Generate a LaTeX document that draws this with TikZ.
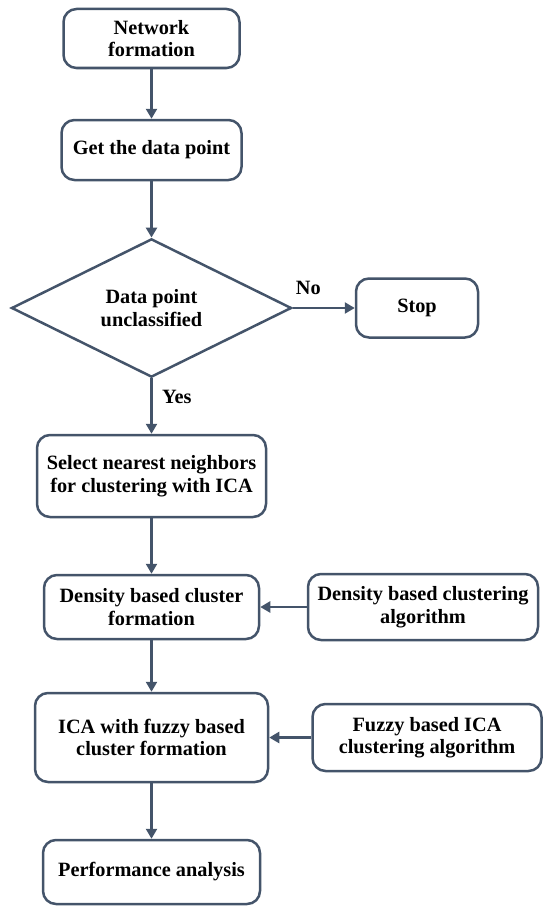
\documentclass[tikz,border=0pt]{standalone}
\usepackage{fontspec}
\setmainfont{Liberation Serif}
\usetikzlibrary{shapes.geometric, arrows.meta, positioning}

\definecolor{linegray}{HTML}{44546A}

\begin{document}
\begin{tikzpicture}[x=1pt, y=-1pt, line width=2.5pt, every node/.style={font=\fontsize{20.3}{22.5}\selectfont\bfseries}]
        \tikzset{
            stepbox/.style={draw=linegray, rounded corners=13pt, align=center, inner sep=0pt},
            decision/.style={draw=linegray, diamond, align=center, inner sep=0pt, minimum width=280pt, minimum height=138pt},
            flow/.style={draw=linegray, -{Triangle[length=10pt, width=11pt]}}
        }
        \useasboundingbox (0,0) rectangle (543,907);

        % Main column
        \node[stepbox, minimum width=176pt, minimum height=59pt] (netform) at (151.5,38.5) {Network\\formation};
        \node[stepbox, minimum width=180pt, minimum height=60pt] (getpt) at (151.5,150) {Get the data point};
        \node[decision] (unclass) at (151.5,308) {Data point\\unclassified};
        \node[stepbox, minimum width=229pt, minimum height=82pt] (select) at (151.5,476) {Select nearest neighbors\\for clustering with ICA};
        \node[stepbox, minimum width=215pt, minimum height=64pt] (dbform) at (151.5,607) {Density based cluster\\formation};
        \node[stepbox, minimum width=233pt, minimum height=89pt] (icaform) at (151.5,737.5) {ICA with fuzzy based\\cluster formation};
        \node[stepbox, minimum width=217pt, minimum height=64pt] (perf) at (151.5,872) {Performance analysis};

        % Side boxes
        \node[stepbox, minimum width=122pt, minimum height=59pt] (stop) at (417,308) {Stop};
        \node[stepbox, minimum width=230pt, minimum height=66pt] (dbalg) at (423,607) {Density based clustering\\algorithm};
        \node[stepbox, minimum width=229pt, minimum height=67pt] (fuzzyalg) at (427,737.5) {Fuzzy based ICA\\clustering algorithm};

        % Connections
        \draw[flow] (netform) -- (getpt);
        \draw[flow] (getpt) -- (unclass);
        \draw[flow] (unclass) -- node[pos=0.25, above=9pt] {No} (stop);
        \draw[flow] (unclass) -- node[pos=0.33, right=6pt] {Yes} (select);
        \draw[flow] (select) -- (dbform);
        \draw[flow] (dbalg) -- (dbform);
        \draw[flow] (dbform) -- (icaform);
        \draw[flow] (fuzzyalg) -- (icaform);
        \draw[flow] (icaform) -- (perf);
    \end{tikzpicture}
\end{document}
